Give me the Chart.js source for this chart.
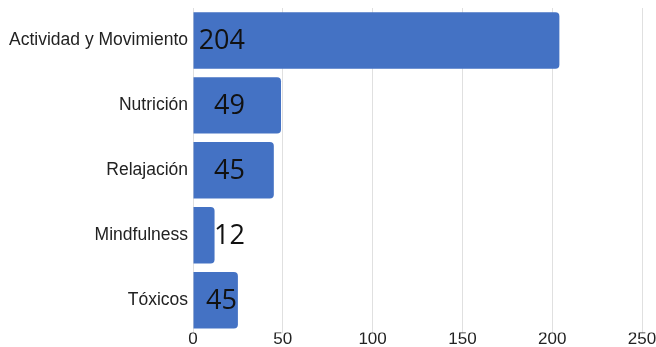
<!DOCTYPE html>
<html>
<head>
<meta charset="utf-8">
<script src="https://cdn.jsdelivr.net/npm/chart.js@4"></script>
<style>
  html, body { margin: 0; padding: 0; background: #fff; }
  #wrap { width: 656px; height: 347px; }
</style>
</head>
<body>
<div id="wrap"><canvas id="c"></canvas></div>
<script>
// data
const categories = ['Actividad y Movimiento', 'Nutrición', 'Relajación', 'Mindfulness', 'Tóxicos'];
const values = [204, 49, 45, 12, 25];
// the printed labels (the last one says 45 although the bar is ~25 long)
const valueLabels = ['204', '49', '45', '12', '45'];
const xTicks = [0, 50, 100, 150, 200, 250];

// draws the big number labels near the start of each bar
const barLabels = {
    id: 'barLabels',
    afterDatasetsDraw(chart) {
        const ctx = chart.ctx;
        const meta = chart.getDatasetMeta(0);
        const base = chart.scales.x.getPixelForValue(0);
        ctx.save();
        ctx.font = '27px "Open Sans"';
        ctx.fillStyle = '#111';
        ctx.textAlign = 'right';
        ctx.textBaseline = 'middle';
        meta.data.forEach((bar, i) => {
            let right = base + 52;
            if (bar.x - base > 30 && bar.x - 1 < right) right = bar.x - 1;
            ctx.fillText(valueLabels[i], right, bar.y + 1);
        });
        ctx.restore();
    }
};

new Chart(document.getElementById('c'), {
    type: 'bar',
    data: {
        labels: categories,
        datasets: [{
            data: values,
            backgroundColor: '#4472c4',
            borderRadius: 4,
            barPercentage: 0.87,
            categoryPercentage: 1
        }]
    },
    options: {
        indexAxis: 'y',
        responsive: true,
        maintainAspectRatio: false,
        animation: false,
        layout: { padding: { top: 8, bottom: 0, left: 0, right: 14 } },
        plugins: { legend: { display: false }, tooltip: { enabled: false } },
        scales: {
            x: {
                min: 0,
                max: 250,
                afterBuildTicks: (axis) => { axis.ticks = xTicks.map(v => ({ value: v })); },
                grid: { color: '#e0e0e0', drawTicks: false },
                border: { display: false },
                ticks: { color: '#222', font: { family: 'Liberation Sans', size: 17 }, padding: -3 }
            },
            y: {
                afterFit: (axis) => { axis.width = 193; axis.paddingTop = 0; axis.paddingBottom = 0; },
                grid: { display: false, drawTicks: false },
                border: { display: false },
                ticks: { color: '#222', font: { family: 'Liberation Sans', size: 17.5 }, padding: 5 }
            }
        }
    },
    plugins: [barLabels]
});
</script>
</body>
</html>
